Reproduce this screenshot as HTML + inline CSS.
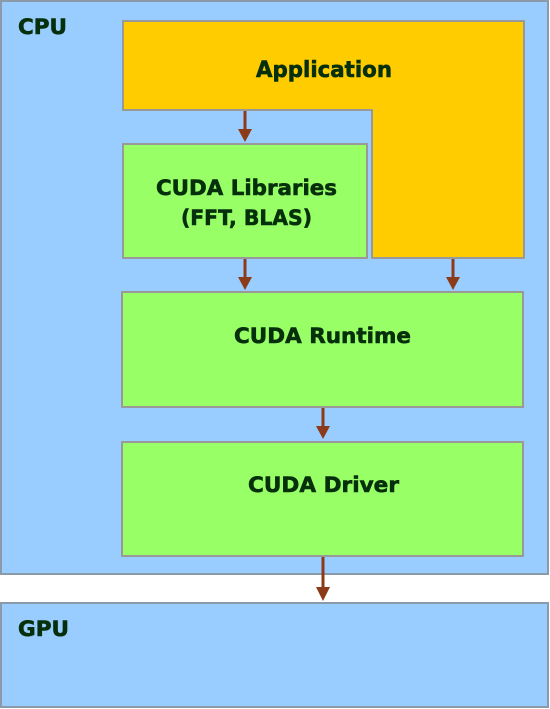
<!DOCTYPE html>
<html><head><meta charset="utf-8"><style>
html,body{margin:0;padding:0;background:#fff;}
svg{display:block}
text{font-family:"DejaVu Sans","Liberation Sans",sans-serif;font-weight:bold;fill:#06300c;stroke:#06300c;stroke-width:0.6;}
</style></head><body>
<svg width="550" height="709" viewBox="0 0 550 709" xmlns="http://www.w3.org/2000/svg">
<rect x="1" y="1" width="547" height="573" fill="#99ccff" stroke="#8a9aa8" stroke-width="2"/>
<rect x="1" y="603" width="547" height="104" fill="#99ccff" stroke="#8a9aa8" stroke-width="2"/>
<path d="M123,21 H524 V258 H372 V110 H123 Z" fill="#ffcc00" stroke="#999999" stroke-width="2"/>
<rect x="123" y="144" width="244" height="114" fill="#99ff66" stroke="#999999" stroke-width="2"/>
<rect x="122" y="292" width="401" height="115" fill="#99ff66" stroke="#999999" stroke-width="2"/>
<rect x="122" y="442" width="401" height="114" fill="#99ff66" stroke="#999999" stroke-width="2"/>
<g fill="#8b3a1a" stroke="#8b3a1a">
<line x1="245" y1="111" x2="245" y2="131" stroke-width="3"/><path d="M238,129 H252 L245,142 Z" stroke="none"/>
<line x1="245" y1="259" x2="245" y2="279" stroke-width="3"/><path d="M238,277 H252 L245,290 Z" stroke="none"/>
<line x1="453" y1="259" x2="453" y2="279" stroke-width="3"/><path d="M446,277 H460 L453,290 Z" stroke="none"/>
<line x1="323" y1="408" x2="323" y2="428" stroke-width="3"/><path d="M316,426 H330 L323,439 Z" stroke="none"/>
<line x1="323" y1="557" x2="323" y2="589" stroke-width="3"/><path d="M316,587 H330 L323,601 Z" stroke="none"/>
</g>
<text x="18" y="34" font-size="21" textLength="49" lengthAdjust="spacingAndGlyphs">CPU</text>
<text x="18" y="636" font-size="21" textLength="51" lengthAdjust="spacingAndGlyphs">GPU</text>
<text x="256" y="77" font-size="22" textLength="136" lengthAdjust="spacingAndGlyphs">Application</text>
<text x="156" y="195" font-size="21" textLength="181" lengthAdjust="spacingAndGlyphs">CUDA Libraries</text>
<text x="181" y="225" font-size="21" textLength="131" lengthAdjust="spacingAndGlyphs">(FFT, BLAS)</text>
<text x="234" y="343" font-size="21" textLength="177" lengthAdjust="spacingAndGlyphs">CUDA Runtime</text>
<text x="248" y="492" font-size="21" textLength="151" lengthAdjust="spacingAndGlyphs">CUDA Driver</text>
</svg>
</body></html>
